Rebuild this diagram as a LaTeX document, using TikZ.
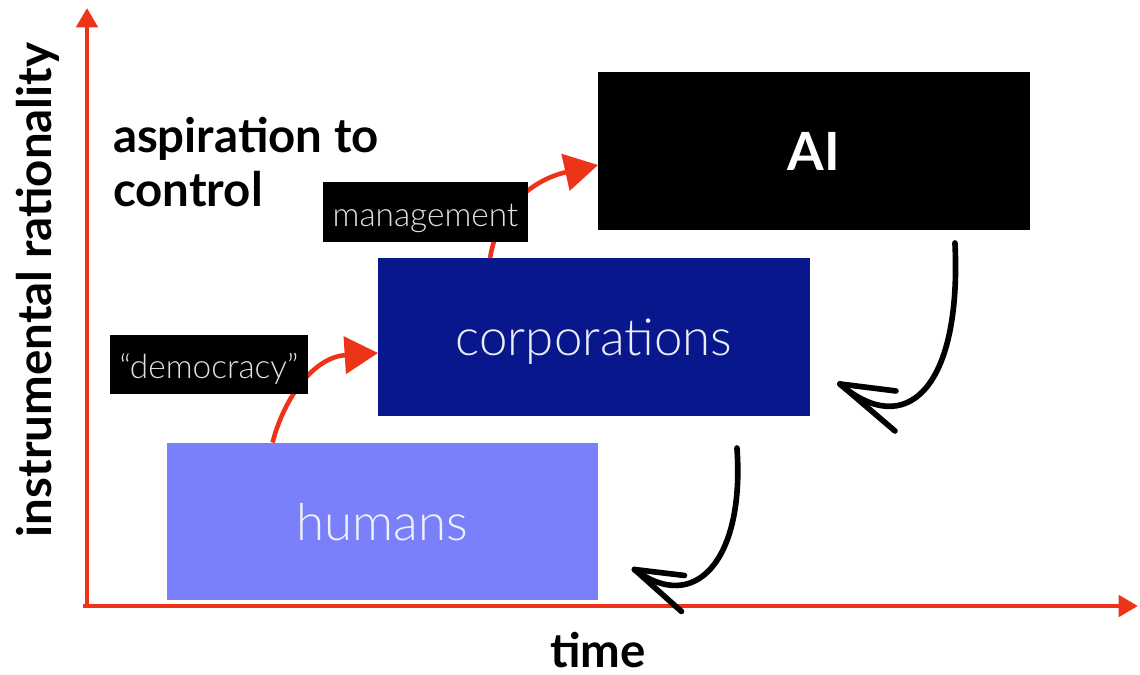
\documentclass[tikz,border=0pt]{standalone}
\usepackage{fontspec}
\setmainfont{Lato}
\newfontfamily\lightfont{Lato Light}
\usetikzlibrary{arrows.meta,calc}

\definecolor{axisred}{RGB}{238,52,24}
\definecolor{corpblue}{RGB}{8,24,140}
\definecolor{humblue}{RGB}{122,128,250}

\tikzset{
  axis/.style={axisred,line width=2.6pt,-{Triangle[length=11pt,width=12pt]}},
  rise/.style={axisred,line width=2.6pt,-{Triangle[length=19pt,width=21pt]}},
  sketch/.style={black,line width=3.2pt,line cap=round,line join=round},
  block/.style={rectangle,minimum width=8.64cm,minimum height=3.16cm},
  tag/.style={rectangle,fill=black,text=white!88!black,minimum height=1.2cm,
    text height=17pt,text depth=1pt,
    font=\lightfont\fontsize{19}{21}\selectfont},
  bigtext/.style={font=\bfseries\fontsize{27}{31}\selectfont}
}

\begin{document}
\begin{tikzpicture}
  [x=0.02cm,y=-0.02cm,every node/.style={inner sep=0pt,outer sep=0pt}]
  \useasboundingbox (0,0) rectangle (1140,675);

  % axes
  \coordinate (orig) at (87,606);
  \draw[axis] (83,606) -- (1138,606);
  \draw[axis] (orig) -- (87,8);
  \node[bigtext,rotate=90] (ylab) at (38,290) {instrumental rationality};
  \node[bigtext] (xlab) at (598,650) {time};
  \node[bigtext,anchor=west,align=left]
    (asp) at (113,162) {aspiration to\\[-0.5pt]control};

  % the three levels
  \node[block,fill=humblue,text=white!90!humblue,text depth=0pt,
    font=\lightfont\fontsize{29}{32}\selectfont]
    (hum) at (382.5,521.5) {humans};
  \node[block,fill=corpblue,text=white!92!corpblue,text depth=0pt,
    font=\lightfont\fontsize{29}{32}\selectfont]
    (corp) at (594,337) {corporations};
  \node[block,fill=black,text=white,font=\bfseries\fontsize{30}{34}\selectfont]
    (ai) at (814,151) {AI};

  % upward steps
  \draw[rise] ($(hum.north west)+(106,0)$) .. controls (285,395) and (315,357) .. ($(corp.west)+(0,16)$);
  \draw[rise] ($(corp.north west)+(112,0)$) .. controls (500,200) and (540,178) .. ($(ai.west)+(0,14)$);

  \node[tag,minimum width=3.96cm] (dem) at (209,364.5) {“democracy”};
  \node[tag,minimum width=4.1cm] (mgmt) at (425.5,212) {management};

  % falling back
  \coordinate (tipa) at ($(corp.south east)+(30,-32)$);
  \draw[sketch] ($(ai.south east)+(-75,13)$) .. controls (962,390) and (905,440) .. (tipa);
  \draw[sketch] (tipa) -- ++(56,7);
  \draw[sketch] (tipa) -- ++(55,47);

  \coordinate (tipb) at ($(hum.south east)+(36,-31)$);
  \draw[sketch] ($(corp.south east)+(-73,32)$) .. controls (745,560) and (695,615) .. (tipb);
  \draw[sketch] (tipb) -- ++(50,6);
  \draw[sketch] (tipb) -- ++(47,42);

\end{tikzpicture}
\end{document}
